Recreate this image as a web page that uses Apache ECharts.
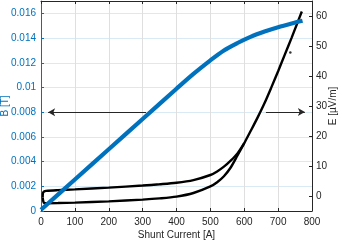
<!DOCTYPE html>
<html>
<head>
<meta charset="utf-8">
<script src="https://cdn.jsdelivr.net/npm/echarts@6/dist/echarts.min.js"></script>
<style>
html,body{margin:0;padding:0;background:#fff;}
#chart{width:342px;height:242px;}
</style>
</head>
<body>
<div id="chart"></div>
<script>
// Magnetic field B [T] vs shunt current
const currentB = [0, 100, 200, 300, 400, 450, 500, 540, 580, 620, 660, 700, 740, 772];
const fieldB   = [0.0001, 0.00255, 0.0050, 0.00745, 0.0099, 0.0111, 0.0122, 0.0130, 0.0136, 0.01412, 0.01453, 0.01488, 0.01518, 0.0154];

// Electric field E [µV/m] hysteresis loop: lower branch
const lowerI = [5, 8, 15, 50, 100, 200, 300, 350, 400, 450, 500, 520, 540, 560, 580, 600, 620, 640, 660, 680, 700, 720, 740, 760, 770];
const lowerE = [-0.5, -2.2, -2.4, -2.35, -2.2, -1.8, -1.2, -0.8, -0.2, 1.0, 3.2, 4.6, 6.6, 9.5, 13.5, 17.6, 21.9, 26.3, 31, 36.2, 41.6, 47.2, 52.8, 58.6, 61.5];
// upper branch
const upperI = [5, 5.5, 9, 15, 50, 100, 200, 300, 350, 400, 450, 500, 520, 540, 560, 580, 600];
const upperE = [-0.5, 0.9, 1.5, 1.7, 1.95, 2.2, 2.8, 3.5, 3.9, 4.4, 5.3, 7.0, 8.2, 9.8, 11.8, 14.2, 17.6];
// stray sample point
const strayI = [736];
const strayE = [47.8];

// tick labels
const xTicks = [0, 100, 200, 300, 400, 500, 600, 700, 800];
const bTicks = [0, 0.002, 0.004, 0.006, 0.008, 0.01, 0.012, 0.014, 0.016];
const eTicks = [0, 10, 20, 30, 40, 50, 60];

// annotation arrows (data coordinates)
const arrowB = [[310, 0.008], [21, 0.008]];
const arrowE = [[664, 28], [779, 28]];

const BLUE = '#0072BD';
const DARK = '#262626';
const FONT = 'Liberation Sans, Arial, Helvetica, sans-serif';

const chart = echarts.init(document.getElementById('chart'), null, {renderer: 'canvas'});
const zip = (a, b) => a.map((v, i) => [v, b[i]]);

chart.setOption({
  animation: false,
  grid: {left: 41, right: 30, top: 1, bottom: 31, containLabel: false, outerBoundsMode: 'none'},
  xAxis: [{
    type: 'value', min: 0, max: 800, interval: 100, position: 'bottom',
    name: 'Shunt Current [A]', nameLocation: 'middle', nameGap: 19, nameMoveOverlap: false,
    nameTextStyle: {color: DARK, fontSize: 10, fontFamily: FONT},
    axisLine: {show: true, onZero: false, lineStyle: {color: DARK, width: 1}},
    axisTick: {show: true, inside: true, length: 3, lineStyle: {color: DARK}},
    axisLabel: {color: DARK, fontSize: 10, fontFamily: FONT, margin: 6,
      customValues: xTicks},
    splitLine: {show: true, lineStyle: {color: '#dfdfdf', width: 1}}
  }, {
    type: 'value', min: 0, max: 800, interval: 100, position: 'top',
    axisLine: {show: true, onZero: false, lineStyle: {color: DARK, width: 1}},
    axisTick: {show: true, inside: true, length: 3, lineStyle: {color: DARK}},
    axisLabel: {show: false},
    splitLine: {show: false}
  }],
  yAxis: [{
    type: 'value', min: 0, max: 0.017, interval: 0.002, position: 'left',
    name: 'B [T]', nameLocation: 'middle', nameGap: 31, nameRotate: 90, nameMoveOverlap: false,
    nameTextStyle: {color: BLUE, fontSize: 10, fontFamily: FONT},
    axisLine: {show: true, onZero: false, lineStyle: {color: BLUE, width: 1}},
    axisTick: {show: true, inside: true, length: 3, lineStyle: {color: BLUE}, customValues: bTicks},
    axisLabel: {color: BLUE, fontSize: 10, fontFamily: FONT, margin: 5, customValues: bTicks},
    splitLine: {show: true, lineStyle: {color: '#d9eaf5', width: 1}}
  }, {
    type: 'value', min: -5, max: 65, position: 'right',
    name: 'E [\u00b5V/m]', nameLocation: 'middle', nameGap: 16, nameRotate: 90, nameMoveOverlap: false,
    nameTextStyle: {color: DARK, fontSize: 10, fontFamily: FONT},
    axisLine: {show: true, onZero: false, lineStyle: {color: DARK, width: 1}},
    axisTick: {show: true, inside: true, length: 3, lineStyle: {color: DARK}, customValues: eTicks},
    axisLabel: {color: DARK, fontSize: 10, fontFamily: FONT, margin: 4, customValues: eTicks},
    splitLine: {show: false}
  }],
  series: [{
    type: 'line', xAxisIndex: 0, yAxisIndex: 1, data: zip(lowerI, lowerE),
    showSymbol: false, smooth: 0.3, z: 2,
    lineStyle: {color: '#000', width: 2.4}
  }, {
    type: 'line', xAxisIndex: 0, yAxisIndex: 1, data: zip(upperI, upperE),
    showSymbol: false, smooth: 0.3, z: 2,
    lineStyle: {color: '#000', width: 2.4},
    markLine: {
      silent: true, symbol: ['none', 'arrow'], symbolSize: [6, 7],
      label: {show: false},
      lineStyle: {color: DARK, width: 1, type: 'solid'},
      data: [[{coord: arrowE[0]}, {coord: arrowE[1]}]]
    }
  }, {
    type: 'scatter', xAxisIndex: 0, yAxisIndex: 1, data: zip(strayI, strayE),
    symbolSize: 2.5, itemStyle: {color: '#000'}, z: 2
  }, {
    type: 'line', xAxisIndex: 0, yAxisIndex: 0, data: zip(currentB, fieldB),
    showSymbol: false, smooth: 0.3, z: 3,
    lineStyle: {color: BLUE, width: 4.2},
    markLine: {
      silent: true, symbol: ['none', 'arrow'], symbolSize: [6, 7],
      label: {show: false},
      lineStyle: {color: DARK, width: 1, type: 'solid'},
      data: [[{coord: arrowB[0]}, {coord: arrowB[1]}]]
    }
  }]
});
</script>
</body>
</html>
